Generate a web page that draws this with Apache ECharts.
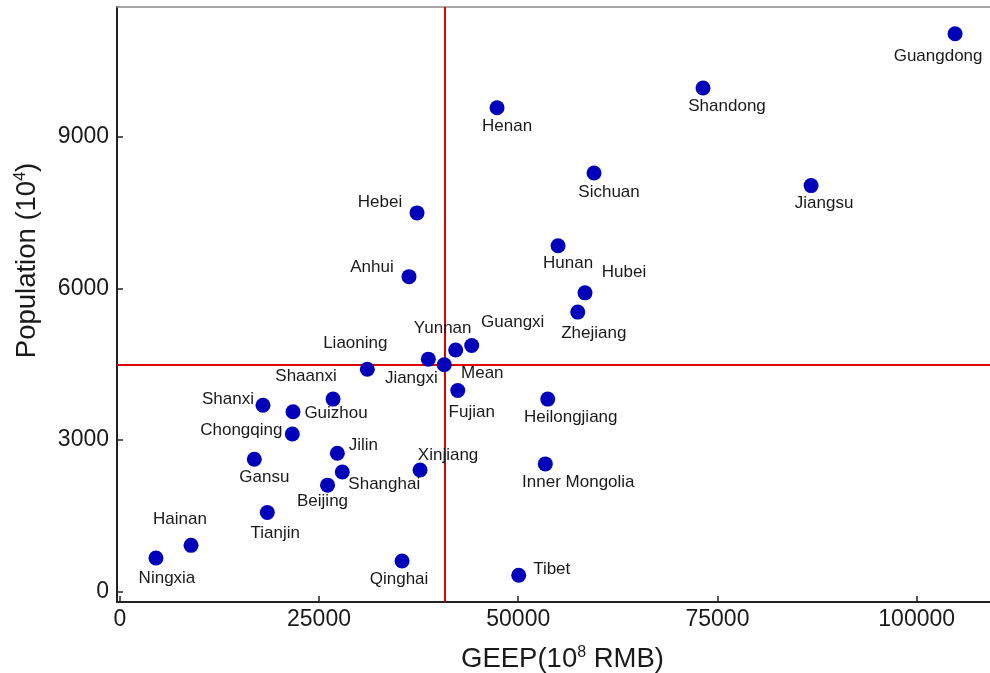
<!DOCTYPE html>
<html>
<head>
<meta charset="utf-8">
<script src="https://cdn.jsdelivr.net/npm/echarts@6/dist/echarts.min.js"></script>
<style>
  html, body { margin: 0; padding: 0; background: #fff; }
  #chart { width: 990px; height: 673px; }
</style>
</head>
<body>
<div id="chart"></div>
<script>
// Provinces: GEEP (10^8 RMB) against population (10^4)
const provinces = ['Guangdong', 'Shandong', 'Henan', 'Sichuan', 'Jiangsu', 'Hebei', 'Hunan', 'Anhui',
  'Hubei', 'Zhejiang', 'Guangxi', 'Yunnan', 'Jiangxi', 'Liaoning', 'Fujian', 'Shaanxi', 'Heilongjiang',
  'Shanxi', 'Guizhou', 'Chongqing', 'Jilin', 'Gansu', 'Xinjiang', 'Inner Mongolia', 'Shanghai',
  'Beijing', 'Tianjin', 'Hainan', 'Ningxia', 'Qinghai', 'Tibet'];
const geep = [104820, 73190, 47340, 59510, 86750, 37300, 55000, 36290,
  58380, 57470, 44160, 42150, 38720, 31060, 42410, 26760, 53700,
  17970, 21740, 21650, 27300, 16880, 37680, 53400, 27920,
  26070, 18510, 8940, 4540, 35420, 50060];
const population = [11030, 9960, 9570, 8280, 8030, 7490, 6840, 6230,
  5910, 5530, 4870, 4780, 4600, 4400, 3980, 3810, 3810,
  3690, 3560, 3120, 2740, 2620, 2410, 2530, 2370,
  2110, 1570, 920, 670, 610, 330];

const meanLabel = 'Mean';
const meanGeep = 40720;
const meanPopulation = 4490;

const xTicks = [0, 25000, 50000, 75000, 100000];
const yTicks = [0, 3000, 6000, 9000];

// Label placement around each marker (centre offset in px), same order as provinces
const labelOffsets = [[-17, 22], [24, 18], [10, 19], [15, 19], [13, 18], [-37, -11], [10, 18], [-37, -9],
  [39, -21], [16, 21], [41, -23], [-13, -22], [-17, 19], [-12, -26], [14, 22], [-27, -23], [23, 18],
  [-35, -6], [43, 2], [-51, -4], [26, -8], [10, 18], [28, -15], [33, 18], [42, 12],
  [-5, 16], [8, 21], [-11, -26], [11, 20], [-3, 18], [33, -6]];
const meanLabelOffset = [38, 9];

const FONT = '"Liberation Sans", Arial, Helvetica, sans-serif';
const pointColor = '#0000bb';
const plainNumber = v => String(v);

const points = provinces.map((name, i) => ({
  name: name,
  value: [geep[i], population[i]],
  label: { offset: labelOffsets[i] }
}));
points.push({
  name: meanLabel,
  value: [meanGeep, meanPopulation],
  label: { offset: meanLabelOffset }
});

const chart = echarts.init(document.getElementById('chart'), null, { renderer: 'canvas' });

chart.setOption({
  backgroundColor: '#ffffff',
  animation: false,
  grid: { left: 117, right: 0, top: 7, bottom: 71, containLabel: false, outerBoundsMode: 'none' },
  xAxis: [{
    type: 'value',
    min: -350,
    max: 109200,
    name: 'GEEP(10{sup|8} RMB)',
    nameLocation: 'middle',
    nameGap: 43,
    nameTextStyle: {
      fontFamily: FONT, fontSize: 27.5, color: '#1a1a1a',
      padding: [0, 0, 0, 18],
      rich: { sup: { fontFamily: FONT, fontSize: 16, color: '#1a1a1a', verticalAlign: 'top', padding: [0, 0, 13, 0] } }
    },
    axisLine: { show: true, onZero: false, lineStyle: { color: '#222', width: 2 } },
    axisTick: { show: true, inside: true, length: 6, customValues: xTicks, lineStyle: { color: '#222', width: 1.5 } },
    axisLabel: { customValues: xTicks, formatter: plainNumber, margin: 6, fontFamily: FONT, fontSize: 23, color: '#1a1a1a' },
    splitLine: { show: false }
  }, {
    type: 'value',
    position: 'top',
    min: -350,
    max: 109200,
    axisLine: { show: true, onZero: false, lineStyle: { color: '#8a8a8a', width: 1.5 } },
    axisTick: { show: false },
    axisLabel: { show: false },
    splitLine: { show: false }
  }],
  yAxis: {
    type: 'value',
    min: -200,
    max: 11560,
    name: 'Population (10{sup|4})',
    nameLocation: 'middle',
    nameRotate: 90,
    nameGap: 75,
    nameTextStyle: {
      fontFamily: FONT, fontSize: 27.5, color: '#1a1a1a',
      padding: [0, 0, 0, 88],
      rich: { sup: { fontFamily: FONT, fontSize: 16, color: '#1a1a1a', verticalAlign: 'top', padding: [0, 0, 13, 0] } }
    },
    axisLine: { show: true, onZero: false, lineStyle: { color: '#222', width: 2 } },
    axisTick: { show: true, inside: true, length: 6, customValues: yTicks, lineStyle: { color: '#222', width: 1.5 } },
    axisLabel: { customValues: yTicks, formatter: plainNumber, margin: 8, fontFamily: FONT, fontSize: 23, color: '#1a1a1a' },
    splitLine: { show: false }
  },
  series: [{
    type: 'scatter',
    xAxisIndex: 0,
    yAxisIndex: 0,
    z: 3,
    symbol: 'circle',
    symbolSize: 15,
    itemStyle: { color: pointColor, opacity: 1 },
    label: {
      show: true,
      position: 'inside',
      formatter: '{b}',
      fontFamily: FONT,
      fontSize: 17,
      color: '#1a1a1a'
    },
    data: points,
    markLine: {
      silent: true,
      z: 1,
      symbol: 'none',
      label: { show: false },
      lineStyle: { color: '#e00000', width: 2, type: 'solid' },
      emphasis: { disabled: true },
      data: [{ xAxis: meanGeep }, { yAxis: meanPopulation }]
    }
  }]
});
</script>
</body>
</html>
